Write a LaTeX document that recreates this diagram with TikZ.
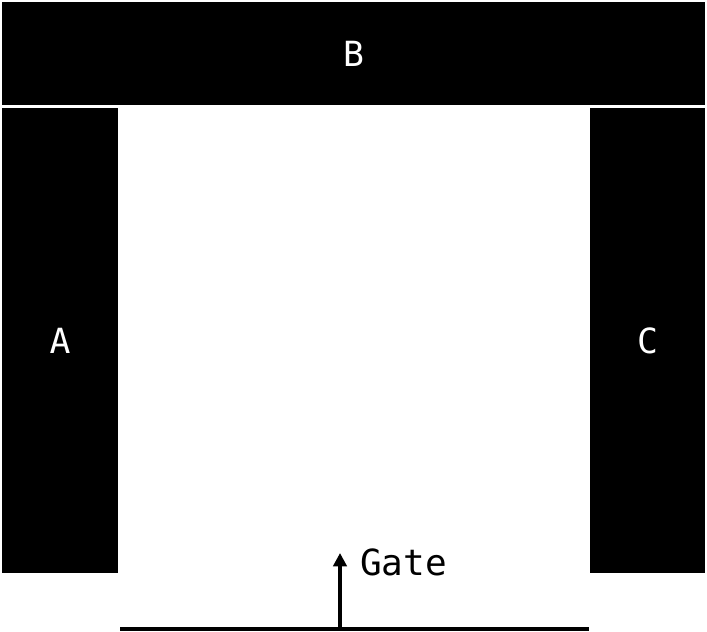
\documentclass[tikz,border=0pt]{standalone}
\usepackage{fontspec}
\setmonofont{DejaVu Sans Mono}
\usetikzlibrary{arrows.meta,positioning}

\begin{document}
\begin{tikzpicture}[x=0.75pt,y=-0.75pt]
\useasboundingbox (0,0) rectangle (707,632);
\begin{scope}[every node/.style={rectangle,fill=black,text=white,inner sep=0pt,
              font=\ttfamily\fontsize{26}{30}\selectfont}]
    \node[minimum width=703*0.75pt,minimum height=103*0.75pt] (B) at (353.5,53.5) {B};
    \node[minimum width=116*0.75pt,minimum height=465*0.75pt] (A) at (60,340.5) {A};
    \node[minimum width=115*0.75pt,minimum height=465*0.75pt] (C) at (647.5,340.5) {C};
\end{scope}

\coordinate (gl) at (120,629);
\coordinate (gr) at (589,629);
\coordinate (gm) at (340,629);
\coordinate (gt) at (340,553);
\node[anchor=west,inner sep=0pt,font=\ttfamily\fontsize{27}{30}\selectfont] (gate) at (360,562) {Gate};

\begin{scope}[line width=3pt]
    \draw (gl) -- (gr);
    \draw [-{Triangle[length=10pt,width=10pt]}] (gm) -- (gt);
\end{scope}
\end{tikzpicture}
\end{document}
